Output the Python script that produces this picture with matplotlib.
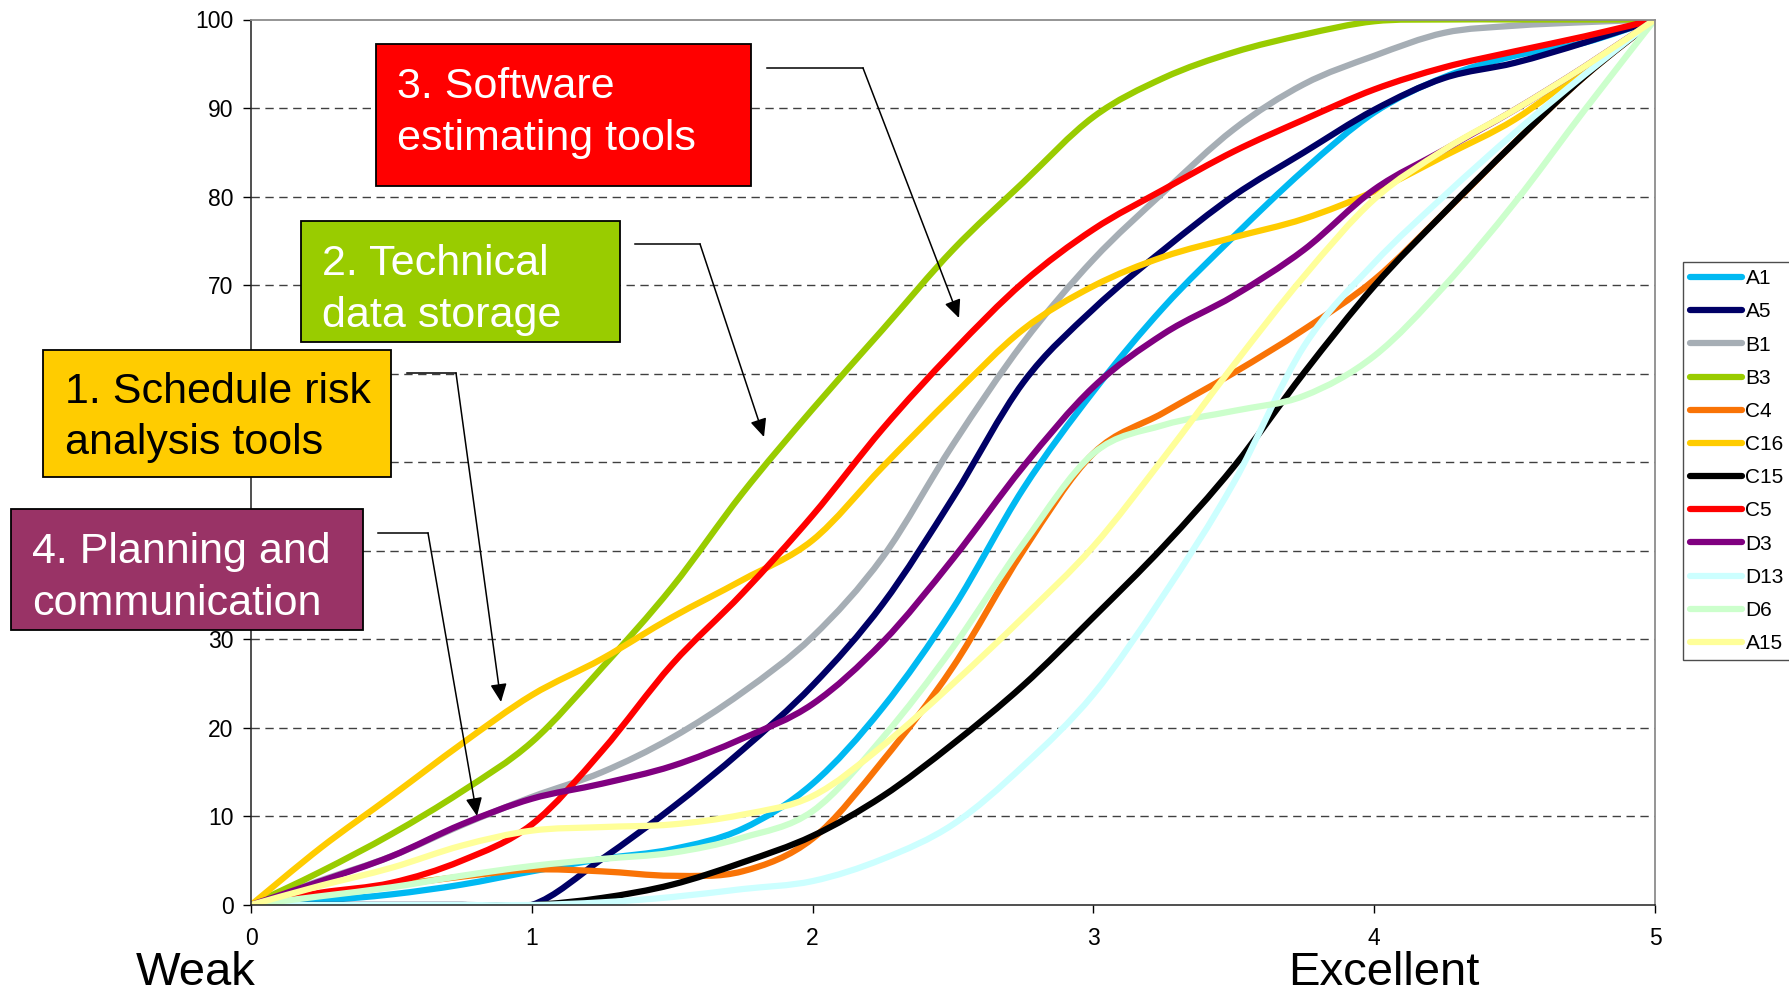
"""
Кривые оценки инструментов (Weak -> Excellent) с выносками-пояснениями.
Сохраняет out.png.
"""
import numpy as np
import matplotlib
matplotlib.use('Agg')
import matplotlib.pyplot as plt
from matplotlib.path import Path
from matplotlib.patches import PathPatch, Rectangle, FancyArrowPatch
from matplotlib.lines import Line2D

plt.rcParams['font.family'] = ['Liberation Sans', 'DejaVu Sans']

# Данные
x_levels = [0, 0.25, 0.5, 0.75, 1, 1.25, 1.5, 1.75, 2, 2.25, 2.5,
            2.75, 3, 3.25, 3.5, 3.75, 4, 4.25, 4.5, 4.75, 5]

a1 = [0, 0.5, 1.2, 2.3, 3.8, 5.2, 6.3, 8.6, 13.7, 22.3, 33.5, 47, 58, 67.5, 75.5, 83, 89.5, 93.5, 95.9, 97.4, 100]
a5 = [0, 0, 0, 0, 0, 5.2, 11, 17.5, 24.8, 34, 46, 59, 67.3, 74, 80.1, 85, 89.8, 93.4, 95.1, 97.4, 100]
b1 = [0, 2.8, 5.5, 9, 12.2, 15, 18.9, 24, 30.3, 39.3, 52, 63.5, 72.9, 80.5, 87.6, 92.7, 95.9, 98.5, 99.3, 99.7, 100]
b3 = [0, 3.8, 8, 12.8, 18.4, 26.8, 35.9, 46.5, 56, 65, 74, 81.6, 89, 93.4, 96.3, 98.3, 99.8, 100, 100, 100, 100]
c4 = [0, 1.2, 2.2, 3.2, 4.0, 3.8, 3.3, 3.8, 7.5, 16.3, 26.9, 40, 51, 55.6, 60.1, 65, 70.6, 78.2, 86.1, 93.6, 100]
c16 = [0, 6.5, 12.3, 18.2, 23.7, 27.8, 32.5, 36.7, 41.2, 49.5, 57.5, 65, 69.9, 73.2, 75.4, 77.5, 80.6, 84.6, 88.7, 94.4, 100]
c15 = [0, 0, 0, 0, 0, 0.8, 2.3, 4.8, 7.8, 12.3, 18.2, 24.8, 32.5, 40.5, 49.5, 60.1, 69.9, 78.2, 86.1, 93.6, 100]
c5 = [0, 1.4, 2.5, 5, 9.1, 17.4, 27.2, 35.2, 44, 53.8, 62.5, 70.3, 76.3, 80.8, 85.1, 88.7, 92.1, 94.6, 96.4, 98.1, 100]
d3 = [0, 2.7, 5.5, 9.1, 12, 13.7, 15.7, 18.8, 22.7, 29.7, 39.1, 49.5, 58.5, 64.5, 68.8, 74, 80.8, 85.3, 89.8, 94.7, 100]
d13 = [0, 0, 0, 0, 0, 0.3, 0.9, 1.8, 2.7, 5.2, 9.1, 15.7, 23.8, 35, 47.7, 63.1, 72.5, 80.1, 87.2, 93.8, 100]
d6 = [0, 1.0, 2.0, 3.3, 4.4, 5.2, 5.9, 7.6, 10.6, 18.9, 29.1, 40.8, 51, 54.2, 55.8, 57.5, 62, 69.9, 79.3, 89.8, 100]
a15 = [0, 2.2, 4.2, 6.7, 8.4, 8.8, 9.1, 10.2, 12.3, 18, 25, 32.5, 40.5, 50.5, 61, 71, 79.7, 85.3, 89.8, 94.7, 100]

series_names = ['A1', 'A5', 'B1', 'B3', 'C4', 'C16', 'C15', 'C5', 'D3', 'D13', 'D6', 'A15']
series_values = [a1, a5, b1, b3, c4, c16, c15, c5, d3, d13, d6, a15]
series_colors = ['#00B9F2', '#000066', '#A6AEB5', '#99CC00', '#F97306', '#FFCC00',
                 '#000000', '#FF0000', '#800080', '#CCFFFF', '#CCFFCC', '#FFFF99']

y_ticks = [0, 10, 20, 30, 40, 50, 60, 70, 80, 90, 100]
# 40, 50 и 60 закрыты выносками на исходной картинке
y_tick_labels = ['0', '10', '20', '30', '', '', '', '70', '80', '90', '100']
x_ticks = [0, 1, 2, 3, 4, 5]

W, H = 1789, 991
LW = 4.5


def smooth_path(xs, ys):
    """Сглаженная линия (как в Excel) через точки: кубические сегменты Безье."""
    pts = np.column_stack([xs, ys]).astype(float)
    ext = np.vstack([pts[0], pts, pts[-1]])
    verts = [pts[0]]
    codes = [Path.MOVETO]
    for i in range(len(pts) - 1):
        p0, p1, p2, p3 = ext[i], ext[i + 1], ext[i + 2], ext[i + 3]
        verts += [p1 + (p2 - p0) / 6, p2 - (p3 - p1) / 6, p2]
        codes += [Path.CURVE4] * 3
    return Path(verts, codes)


def fx(px):
    return px / W


def fy(py):
    return 1 - py / H


fig = plt.figure(figsize=(W / 100, H / 100), dpi=100)
ax = fig.add_axes([fx(251), fy(905), (1655 - 251) / W, (905 - 19.5) / H])

# Линии серий
handles = []
for name, vals, col in zip(series_names, series_values, series_colors):
    patch = PathPatch(smooth_path(x_levels, vals), fill=False, edgecolor=col,
                      lw=LW, capstyle='round', joinstyle='round')
    ax.add_patch(patch)
    handles.append(Line2D([], [], color=col, lw=LW, solid_capstyle='round', label=name))

ax.set_xlim(0, 5)
ax.set_ylim(0, 100)
ax.set_xticks(x_ticks)
ax.set_yticks(y_ticks)
ax.set_yticklabels(y_tick_labels)
ax.tick_params(axis='y', direction='out', length=5.5, width=1, labelsize=16.5, pad=7)
ax.tick_params(axis='x', direction='out', length=5.5, width=1, labelsize=16.5, pad=10)

# Пунктирная сетка
for yv in y_ticks[1:-1]:
    ax.axhline(yv, color='#404040', lw=1.0, linestyle=(0, (6, 4)), zorder=0.5)

for side in ['left', 'bottom']:
    ax.spines[side].set_color('#202020')
    ax.spines[side].set_linewidth(1.1)
for side in ['top', 'right']:
    ax.spines[side].set_color('#8C8C8C')
    ax.spines[side].set_linewidth(1.3)

# Легенда справа (обрезана краем картинки)
leg = ax.legend(handles=handles, loc='upper left',
                bbox_to_anchor=(fx(1683), fy(262)), bbox_transform=fig.transFigure,
                borderaxespad=0, fontsize=15, handlelength=2.5, handletextpad=0.15,
                labelspacing=0.68, borderpad=0.35, frameon=True, fancybox=False)
leg.get_frame().set_edgecolor('#202020')
leg.get_frame().set_linewidth(1.0)

# Выноски: (x0, y0, x1, y1) прямоугольника, цвет, цвет текста, текст, (x, y) текста
boxes = [
    ((376, 44, 751, 186), '#FF0000', 'white', '3. Software\nestimating tools', (397, 113)),
    ((301, 221, 620, 342), '#99CC00', 'white', '2. Technical\ndata storage', (322, 290)),
    ((43, 350, 391, 477), '#FFCC00', 'black', '1. Schedule risk\nanalysis tools', (65, 417.5)),
    ((11, 509, 363, 630), '#993366', 'white', '4. Planning and\ncommunication', (32, 578)),
]
for (x0, y0, x1, y1), fc, tc, txt, (tx, ty) in boxes:
    rect = Rectangle((fx(x0), fy(y1)), (x1 - x0) / W, (y1 - y0) / H,
                     transform=fig.transFigure, facecolor=fc, edgecolor='black',
                     lw=1.3, zorder=5)
    fig.add_artist(rect)
    fig.text(fx(tx), fy(ty), txt, color=tc, fontsize=31,
             ha='left', va='center', linespacing=1.38, zorder=6)

# Стрелки с изломом: начало, излом, остриё
arrows = [
    ((767, 68), (863, 68), (959, 318)),
    ((635, 244), (700, 244), (764, 437)),
    ((407, 373), (456, 373), (501, 702)),
    ((378, 533), (428, 533), (477, 816)),
]
for (sx, sy), (kx, ky), (tx, ty) in arrows:
    fig.add_artist(Line2D([fx(sx), fx(kx)], [fy(sy), fy(ky)], transform=fig.transFigure,
                          color='black', lw=1.1, zorder=6))
    fig.add_artist(FancyArrowPatch((fx(kx), fy(ky)), (fx(tx), fy(ty)),
                                   transform=fig.transFigure,
                                   arrowstyle='-|>,head_length=1.1,head_width=0.5',
                                   mutation_scale=10, color='black', lw=1.1,
                                   shrinkA=0, shrinkB=0, zorder=6))

# Подписи шкалы
fig.text(fx(196), fy(985), 'Weak', fontsize=34, ha='center', va='baseline')
fig.text(fx(1384), fy(985), 'Excellent', fontsize=34, ha='center', va='baseline')

fig.savefig('out.png', dpi=100, facecolor='white')
